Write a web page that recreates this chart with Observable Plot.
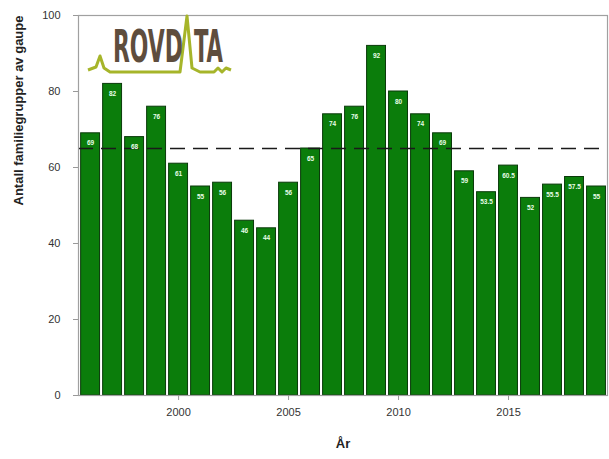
<!DOCTYPE html>
<html>
<head>
<meta charset="utf-8">
<script src="https://cdn.jsdelivr.net/npm/d3@7"></script>
<script src="https://cdn.jsdelivr.net/npm/@observablehq/plot@0.6"></script>
<style>
  html, body { margin: 0; padding: 0; background: #fff; }
  #wrap { position: relative; width: 609px; height: 459px; }
  #logo { position: absolute; left: 0; top: 0; pointer-events: none; }
</style>
</head>
<body>
<div id="wrap">
  <div id="chart"></div>
  <svg id="logo" width="609" height="100" viewBox="0 0 609 100">
    <path d="M88,70 L96,67 L100,56 L104,68 L110,72 L180,72 L187,16 L192,68 L200,72 L214,72 L218,68 L222,72 L226,68 L231,70"
          fill="none" stroke="#a6b52a" stroke-width="3" stroke-linejoin="round"/>
    <text id="l1" data-x="113" data-w="70" font-family="Liberation Sans Narrow, DejaVu Sans Condensed, sans-serif" font-weight="bold" font-size="44" fill="#5e4d3d">ROVD</text>
    <text id="l2" data-x="194" data-w="29" font-family="Liberation Sans Narrow, DejaVu Sans Condensed, sans-serif" font-weight="bold" font-size="44" fill="#5e4d3d">TA</text>
  </svg>
</div>
<script>
const years  = [1996,1997,1998,1999,2000,2001,2002,2003,2004,2005,2006,2007,2008,2009,2010,2011,2012,2013,2014,2015,2016,2017,2018,2019];
const values = [69,82,68,76,61,55,56,46,44,56,65,74,76,92,80,74,69,59,53.5,60.5,52,55.5,57.5,55];
const reference = [65];
const yTicks = [0,20,40,60,80,100];
const xTicks = [2000,2005,2010,2015];
const yLabel = "Antall familiegrupper av gaupe";
const xLabel = "År";

const data = years.map((y, i) => ({year: y, value: values[i]}));

const chart = Plot.plot({
  width: 609,
  height: 459,
  marginTop: 15,
  marginBottom: 64,
  marginLeft: 78,
  marginRight: 2,
  style: {fontFamily: "Liberation Sans, Arial, sans-serif", fontSize: "11px", color: "#333", background: "#fff"},
  x: {domain: [1995.45, 2019.5]},
  y: {domain: [0, 100]},
  marks: [
    Plot.rectY(data, {x1: d => d.year - 0.43, x2: d => d.year + 0.43, y: "value", fill: "#0b7d0b", stroke: "#0a3a0a", strokeWidth: 1}),
    Plot.ruleY(reference, {stroke: "#1a1a1a", strokeWidth: 1.7, strokeDasharray: "15,8"}),
    Plot.text(data, {x: "year", y: "value", text: d => String(d.value), dy: 10, fill: "#e8ffe8", fontSize: 6.5, fontWeight: "bold"}),
    Plot.frame({stroke: "#a0a0a0", strokeWidth: 1.2}),
    Plot.axisY({ticks: yTicks, tickSize: 5, tickPadding: 13, label: null, stroke: "#999", fill: "#333"}),
    Plot.axisX({ticks: xTicks, tickFormat: d => String(d), tickSize: 5, tickPadding: 8, label: null, stroke: "#999", fill: "#333"}),
    Plot.text([yLabel], {frameAnchor: "left", dx: -60, rotate: -90, fontSize: 13, fontWeight: "bold", fill: "#222"}),
    Plot.text([xLabel], {frameAnchor: "bottom", dy: 52, fontSize: 13, fontWeight: "bold", fill: "#222"})
  ]
});
document.getElementById("chart").appendChild(chart);

// fit logo words to their widths via horizontal scaling
for (const id of ["l1", "l2"]) {
  const t = document.getElementById(id);
  const w = t.getComputedTextLength();
  const target = +t.dataset.w;
  const sx = target / w;
  t.setAttribute("transform", `translate(${t.dataset.x},62) scale(${sx},1)`);
}
</script>
</body>
</html>
